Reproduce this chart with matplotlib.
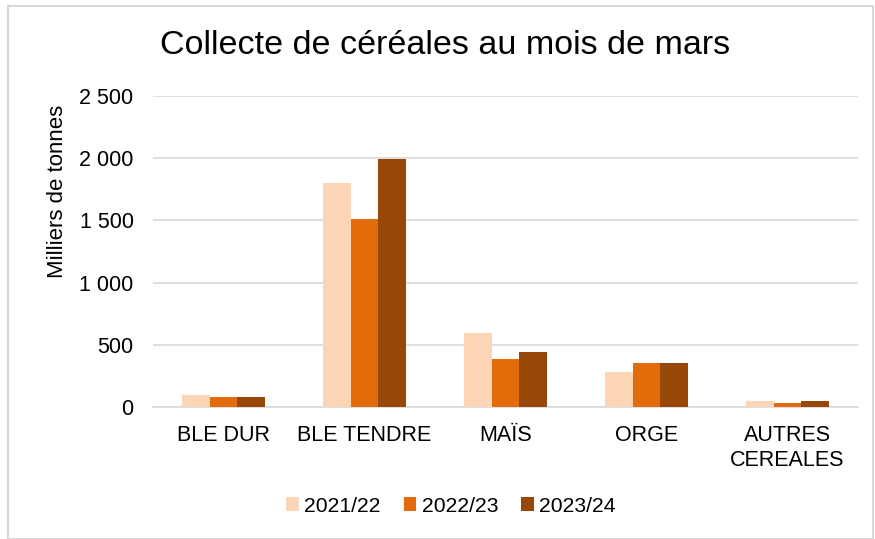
import matplotlib.pyplot as plt
import numpy as np
from matplotlib.patches import Rectangle
from matplotlib.ticker import FuncFormatter

categories = ["BLE DUR", "BLE TENDRE", "MAÏS", "ORGE", "AUTRES\nCEREALES"]
seasons = ["2021/22", "2022/23", "2023/24"]
collecte_2021 = [93, 1800, 592, 283, 45]
collecte_2022 = [80, 1511, 389, 357, 32]
collecte_2023 = [80, 1990, 445, 357, 48]
colors = ["#FBD5B5", "#E26B0A", "#974706"]


def main() -> None:
    plt.rcParams["font.family"] = ["Liberation Sans", "DejaVu Sans"]
    W, H = 875, 539
    fig = plt.figure(figsize=(W / 100, H / 100), dpi=100)

    # chart frame
    fig.patches.append(Rectangle((8 / W, 0), 865 / W, 533 / H, transform=fig.transFigure,
                                 fill=False, edgecolor="#D9D9D9", linewidth=1.5))

    ax = fig.add_axes([153 / W, (H - 407) / H, 705 / W, 311 / H])
    x = np.arange(len(categories))
    width = 0.195
    series = [collecte_2021, collecte_2022, collecte_2023]
    for i, (vals, label, color) in enumerate(zip(series, seasons, colors)):
        ax.bar(x + (i - 1) * width, vals, width, color=color, label=label, zorder=3)

    ax.set_xlim(-0.5, len(categories) - 0.5)
    ax.set_ylim(0, 2500)
    ax.set_yticks(range(0, 2501, 500))
    ax.yaxis.set_major_formatter(FuncFormatter(lambda v, _: f"{int(v):,}".replace(",", " ")))
    ax.grid(axis="y", color="#D9D9D9", linewidth=1.2, zorder=0)
    for side in ["top", "right", "left"]:
        ax.spines[side].set_visible(False)
    ax.spines["bottom"].set_color("#D9D9D9")
    ax.spines["bottom"].set_linewidth(1.2)
    ax.tick_params(axis="both", length=0, labelsize=15.5, colors="#000000")
    ax.tick_params(axis="y", pad=14)
    ax.tick_params(axis="x", pad=13)
    ax.set_xticks(x)
    ax.set_xticklabels(categories, linespacing=1.25)

    fig.text(445 / W, (H - 46) / H, "Collecte de céréales au mois de mars",
             ha="center", va="center", fontsize=24.5)
    fig.text(58 / W, (H - 191) / H, "Milliers de tonnes", rotation=90,
             ha="center", va="center", fontsize=16)

    fig.legend(loc="center", bbox_to_anchor=(451 / W, (H - 506) / H), ncol=3,
               frameon=False, fontsize=15.2, handlelength=0.6, handleheight=0.6,
               handletextpad=0.25, columnspacing=1.1)

    fig.savefig("out.png", dpi=100)


if __name__ == "__main__":
    main()
